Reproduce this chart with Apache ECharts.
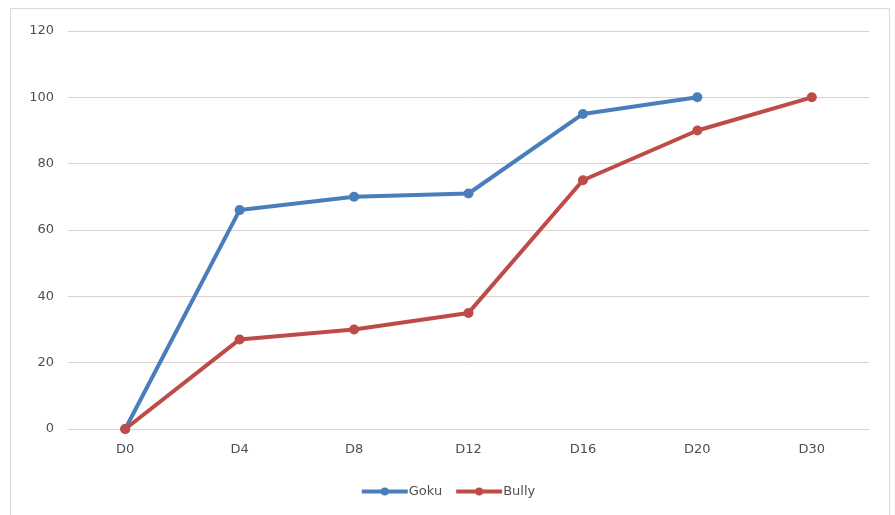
<!DOCTYPE html>
<html>
<head>
<meta charset="utf-8">
<script src="https://cdn.jsdelivr.net/npm/echarts@6/dist/echarts.min.js"></script>
<style>
html,body{margin:0;padding:0;background:#fff;}
#c{width:895px;height:515px;}
</style>
</head>
<body>
<div id="c"></div>
<script>
var categories = ['D0','D4','D8','D12','D16','D20','D30'];
var gokuValues = [0, 66, 70, 71, 95, 100, null];
var bullyValues = [0, 27, 30, 35, 75, 90, 100];
var yTicks = [0, 20, 40, 60, 80, 100, 120];

var chart = echarts.init(document.getElementById('c'));
chart.setOption({
  backgroundColor: '#ffffff',
  animation: false,
  graphic: [{
    type: 'rect',
    shape: {x: 10.5, y: 8.5, width: 879, height: 520},
    style: {fill: 'none', stroke: '#d9d9d9', lineWidth: 1},
    silent: true
  }],
  grid: {left: 68, right: 26, top: 31, bottom: 86},
  legend: {
    bottom: 12,
    left: 'center',
    itemWidth: 46,
    itemHeight: 10,
    itemGap: 12,
    lineStyle: {width: 4},
    textStyle: {fontFamily: 'DejaVu Sans', fontSize: 13, color: '#505050', padding: [0,0,0,-4]},
    data: ['Goku', 'Bully']
  },
  xAxis: {
    type: 'category',
    data: categories,
    boundaryGap: true,
    axisLine: {show: true, lineStyle: {color: '#dccfcf', width: 1}},
    axisTick: {show: false},
    axisLabel: {fontFamily: 'DejaVu Sans', fontSize: 13, color: '#505050', margin: 14}
  },
  yAxis: {
    type: 'value',
    min: yTicks[0],
    max: yTicks[yTicks.length - 1],
    interval: 20,
    axisLine: {show: false},
    axisTick: {show: false},
    axisLabel: {fontFamily: 'DejaVu Sans', fontSize: 13, color: '#505050', margin: 14},
    splitLine: {lineStyle: {color: '#dccfcf', width: 1}}
  },
  series: [{
    name: 'Goku',
    type: 'line',
    data: gokuValues,
    color: '#4a7ebb',
    symbol: 'circle',
    symbolSize: 10,
    lineStyle: {width: 4, color: '#4a7ebb'},
    itemStyle: {color: '#4a7ebb'},
    connectNulls: false
  }, {
    name: 'Bully',
    type: 'line',
    data: bullyValues,
    color: '#be4b48',
    symbol: 'circle',
    symbolSize: 10,
    lineStyle: {width: 4, color: '#be4b48'},
    itemStyle: {color: '#be4b48'}
  }]
});
</script>
</body>
</html>
